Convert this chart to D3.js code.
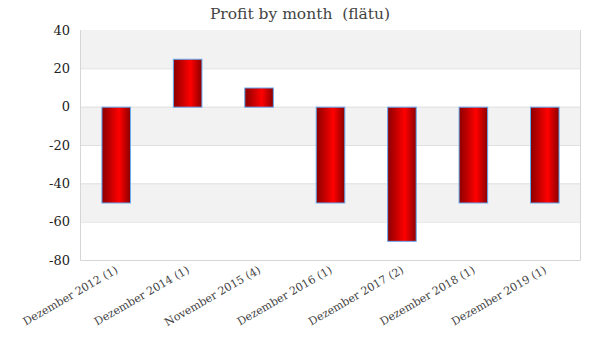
<!DOCTYPE html>
<html><head><meta charset="utf-8">
<script src="https://cdn.jsdelivr.net/npm/d3@7"></script>
<style>body{margin:0;background:#fff}svg{display:block}text{font-family:"DejaVu Serif","Liberation Serif",serif}</style>
</head><body><svg id="c" width="600" height="360"></svg>
<script>
const categories = ["Dezember 2012 (1)","Dezember 2014 (1)","November 2015 (4)","Dezember 2016 (1)","Dezember 2017 (2)","Dezember 2018 (1)","Dezember 2019 (1)"];
const values = [-50, 25, 10, -50, -70, -50, -50];
const yTicks = [40, 20, 0, -20, -40, -60, -80];
const title = "Profit by month  (flätu)";

const svg = d3.select("#c");
const m = {l:80, r:20, t:30, b:100};
const W = 600, H = 360;
const x = d3.scaleBand().domain(categories).range([m.l, W - m.r]).paddingInner(0.6).paddingOuter(0.3);
const y = d3.scaleLinear().domain([-80, 40]).range([H - m.b, m.t]);

const defs = svg.append("defs");
const g = defs.append("linearGradient").attr("id","bg").attr("x1","0").attr("x2","1").attr("y1","0").attr("y2","0");
g.append("stop").attr("offset","0%").attr("stop-color","#8a0000");
g.append("stop").attr("offset","60%").attr("stop-color","#ff0000");
g.append("stop").attr("offset","100%").attr("stop-color","#8a0000");

for (let i = 0; i < yTicks.length - 1; i++) {
  svg.append("rect").attr("x", m.l).attr("width", W - m.r - m.l)
    .attr("y", y(yTicks[i])).attr("height", y(yTicks[i+1]) - y(yTicks[i]))
    .attr("fill", i % 2 === 0 ? "#f2f2f2" : "#ffffff");
}
svg.append("g").selectAll("line").data(yTicks.slice(1, -1)).join("line")
  .attr("x1", m.l).attr("x2", W - m.r).attr("y1", d => y(d) + 0.5).attr("y2", d => y(d) + 0.5)
  .attr("stroke", "#e0e0e0");
svg.append("path").attr("d", `M${m.l+0.5},${m.t}V${H-m.b+0.5}H${W-m.r+0.5}V${m.t}`)
  .attr("fill","none").attr("stroke","#d6d6d6");

svg.append("g").selectAll("rect").data(values).join("rect")
  .attr("x", (d,i) => x(categories[i]) + 0.5)
  .attr("width", x.bandwidth())
  .attr("y", d => Math.min(y(d), y(0)) + 0.5)
  .attr("height", d => Math.abs(y(d) - y(0)))
  .attr("fill", "url(#bg)").attr("stroke", "#66aaf0").attr("stroke-width", 1);

const ya = svg.append("g").attr("transform", `translate(${m.l},0)`)
  .call(d3.axisLeft(y).tickValues(yTicks).tickFormat(d => String(d)).tickSize(0).tickPadding(10));
ya.select(".domain").remove();
ya.selectAll("text").attr("font-size", 13).attr("fill", "#222").style("font-family", '"DejaVu Serif",serif');

const xa = svg.append("g").attr("transform", `translate(0,${H - m.b})`)
  .call(d3.axisBottom(x).tickSize(0).tickPadding(0));
xa.select(".domain").remove();
xa.selectAll("text").attr("font-size", 11).attr("fill", "#444")
  .attr("text-anchor", "end").attr("dy", 0)
  .attr("transform", "translate(3,12) rotate(-30)");

svg.append("text").attr("x", W/2).attr("y", 19).attr("text-anchor","middle")
  .attr("font-size", 15.5).attr("fill", "#444").style("white-space","pre").text(title);
</script></body></html>
